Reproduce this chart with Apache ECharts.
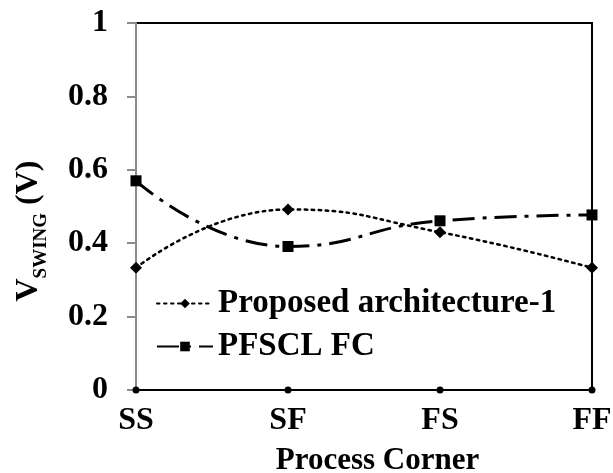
<!DOCTYPE html>
<html>
<head>
<meta charset="utf-8">
<script src="https://cdn.jsdelivr.net/npm/echarts@6/dist/echarts.min.js"></script>
<style>
  html, body { margin: 0; padding: 0; background: #fff; }
  #chart { width: 613px; height: 473px; }
</style>
</head>
<body>
<div id="chart"></div>
<script>
// Process corners on the x axis
var corners = ['SS', 'SF', 'FS', 'FF'];
// Output voltage swing (V) per corner
var proposedArch1 = [0.333, 0.492, 0.430, 0.333];
var pfsclFC = [0.570, 0.391, 0.461, 0.477];
// Small dots marking each corner on the baseline
var baseDots = [0, 0, 0, 0];
// Y axis range and step
var yMin = 0, yMax = 1, yStep = 0.2;

var FONT = '"Liberation Serif", "Times New Roman", serif';

var chart = echarts.init(document.getElementById('chart'), null, { renderer: 'canvas' });

chart.setOption({
  backgroundColor: '#ffffff',
  animation: false,
  grid: {
    left: 136, right: 21, top: 23, bottom: 83,
    outerBoundsMode: 'none',
    containLabel: false,
    show: true, borderColor: '#000', borderWidth: 2, backgroundColor: 'transparent'
  },
  legend: {
    left: 151, top: 282, orient: 'vertical',
    itemWidth: 56, itemHeight: 12, itemGap: 10,
    textStyle: { fontFamily: FONT, fontWeight: 'bold', fontSize: 33, color: '#000' },
    data: ['Proposed architecture-1', 'PFSCL FC']
  },
  xAxis: {
    type: 'category',
    data: corners,
    boundaryGap: false,
    axisLine: { lineStyle: { color: '#000', width: 2 } },
    axisTick: { show: false },
    splitLine: { show: false },
    axisLabel: { margin: 15, fontFamily: FONT, fontWeight: 'bold', fontSize: 32, color: '#000' },
    name: 'Process Corner',
    nameLocation: 'middle',
    nameGap: 55,
    nameTextStyle: { fontFamily: FONT, fontWeight: 'bold', fontSize: 31, color: '#000', padding: [0, 0, 0, 27] }
  },
  yAxis: {
    type: 'value',
    min: yMin, max: yMax, interval: yStep,
    axisLine: { show: true, lineStyle: { color: '#8c8c8c', width: 2 } },
    axisTick: { show: true, inside: false, length: 9, lineStyle: { color: '#8c8c8c', width: 2 } },
    splitLine: { show: false },
    axisLabel: { margin: 28, fontFamily: FONT, fontWeight: 'bold', fontSize: 32, color: '#000' }
  },
  graphic: [{
    type: 'text',
    x: 29, y: 231,
    rotation: Math.PI / 2,
    style: {
      text: '{v|V}{s|SWING}{v| (V)}',
      align: 'center',
      verticalAlign: 'middle',
      fill: '#000',
      rich: {
        v: { fontFamily: FONT, fontWeight: 'bold', fontSize: 32, lineHeight: 44, verticalAlign: 'middle' },
        s: { fontFamily: FONT, fontWeight: 'bold', fontSize: 19, lineHeight: 19, verticalAlign: 'bottom' }
      }
    }
  }],
  series: [
    {
      name: 'Proposed architecture-1',
      type: 'line',
      data: proposedArch1,
      smooth: 0.5,
      symbol: 'diamond',
      symbolSize: 12,
      itemStyle: { color: '#000' },
      lineStyle: { color: '#000', width: 2.5, type: [2.5, 4.5], cap: 'round' },
      z: 3
    },
    {
      name: 'PFSCL FC',
      type: 'line',
      data: pfsclFC,
      smooth: 0.5,
      symbol: 'rect',
      symbolSize: 11,
      itemStyle: { color: '#000' },
      lineStyle: { color: '#000', width: 3, type: [22, 8, 4, 8] },
      z: 3
    },
    {
      name: 'base',
      type: 'scatter',
      data: baseDots,
      symbol: 'circle',
      symbolSize: 7,
      itemStyle: { color: '#000', opacity: 1 },
      silent: true,
      z: 4
    }
  ]
});
</script>
</body>
</html>
